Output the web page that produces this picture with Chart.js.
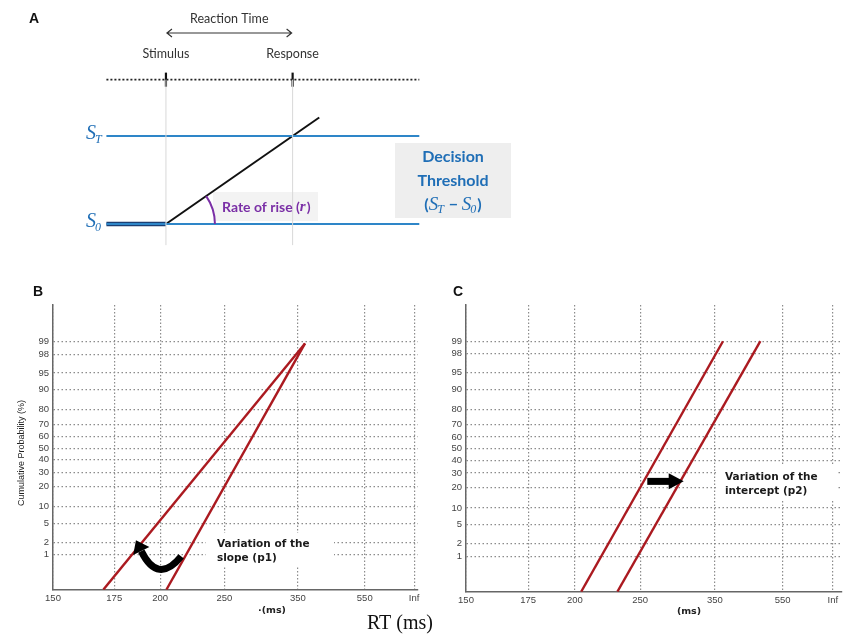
<!DOCTYPE html>
<html>
<head>
<meta charset="utf-8">
<script src="https://cdn.jsdelivr.net/npm/chart.js@4.4.1/dist/chart.umd.min.js"></script>
<style>
  body { margin: 0; background: #fff; }
  #wrap { position: relative; width: 850px; height: 637px; overflow: hidden; background: #fff; }
  canvas { position: absolute; }
</style>
</head>
<body>
<div id="wrap">
  <canvas id="panelA" width="850" height="280" style="left:0px;top:0px"></canvas>
  <canvas id="panelB" width="440" height="357" style="left:0px;top:280px"></canvas>
  <canvas id="panelC" width="420" height="357" style="left:430px;top:280px"></canvas>
</div>
<script>
// ---------- panel A: schematic (time in units of one reaction time, signal from S0 to ST) ----------
const eventLabels = ['Stimulus', 'Response'];
const eventTimes = [0, 1];
const startLevel = 0;          // S0
const thresholdLevel = 1;      // ST
const riseTimes = [0, 1.21];
const riseLevels = [0, 1.21];
const timelineSpan = [-0.47, 2.0];
const timelineLevel = 1.64;

// ---------- panels B and C: reciprobit plots ----------
const rtTicks = [150, 175, 200, 250, 350, 550, Infinity];
const rtTickLabels = ['150', '175', '200', '250', '350', '550', 'Inf'];
const probTicks = [1, 2, 5, 10, 20, 30, 40, 50, 60, 70, 80, 90, 95, 98, 99];

// B: variation of the slope
const slopeShallowRT = [170, 364];
const slopeShallowP = [0.1, 98.9];
const slopeSteepRT = [204, 364];
const slopeSteepP = [0.1, 98.9];

// C: variation of the intercept
const interceptEarlyRT = [204, 366];
const interceptEarlyP = [0.1, 99];
const interceptLateRT = [230, 463];
const interceptLateP = [0.1, 99];

const RED = '#ab1a20';
const BLUE = '#2e86c8';
const BLUE_TEXT = '#1f6eb6';
const PURPLE = '#7a2fa6';

// inverse normal CDF (Acklam) for the probit axis
function probit(p) {
  const a = [-3.969683028665376e+01, 2.209460984245205e+02, -2.759285104469687e+02, 1.383577518672690e+02, -3.066479806614716e+01, 2.506628277459239e+00];
  const b = [-5.447609879822406e+01, 1.615858368580409e+02, -1.556989798598866e+02, 6.680131188771972e+01, -1.328068155288572e+01];
  const c = [-7.784894002430293e-03, -3.223964580411365e-01, -2.400758277161838e+00, -2.549732539343734e+00, 4.374664141464968e+00, 2.938163982698783e+00];
  const d = [7.784695709041462e-03, 3.224671290700398e-01, 2.445134137142996e+00, 3.754408661907416e+00];
  const pl = 0.02425;
  let q, r;
  if (p < pl) {
    q = Math.sqrt(-2 * Math.log(p));
    return (((((c[0] * q + c[1]) * q + c[2]) * q + c[3]) * q + c[4]) * q + c[5]) / ((((d[0] * q + d[1]) * q + d[2]) * q + d[3]) * q + 1);
  }
  if (p > 1 - pl) {
    q = Math.sqrt(-2 * Math.log(1 - p));
    return -(((((c[0] * q + c[1]) * q + c[2]) * q + c[3]) * q + c[4]) * q + c[5]) / ((((d[0] * q + d[1]) * q + d[2]) * q + d[3]) * q + 1);
  }
  q = p - 0.5;
  r = q * q;
  return (((((a[0] * r + a[1]) * r + a[2]) * r + a[3]) * r + a[4]) * r + a[5]) * q / (((((b[0] * r + b[1]) * r + b[2]) * r + b[3]) * r + b[4]) * r + 1);
}

// reciprocal time axis, Inf squeezed in next to 550
function rtToX(rt) {
  return isFinite(rt) ? -1000 / rt : -1.05;
}

function segment(xs, ys) {
  return xs.map((x, i) => ({ x: x, y: ys[i] }));
}

// ---------- panel A ----------
function drawMathS(ctx, x, y, sub, size, color, dry) {
  ctx.fillStyle = color;
  ctx.font = 'italic ' + size + 'px "Liberation Serif"';
  const w1 = ctx.measureText('S').width;
  if (!dry) ctx.fillText('S', x, y);
  ctx.font = 'italic ' + Math.round(size * 0.62) + 'px "Liberation Serif"';
  const w2 = ctx.measureText(sub).width;
  if (!dry) ctx.fillText(sub, x + w1 - 1, y + size * 0.28);
  return w1 - 1 + w2;
}

const panelANotes = {
  id: 'panelANotes',
  beforeDatasetsDraw(chart) {
    const ctx = chart.ctx;
    ctx.save();
    // grey boxes
    ctx.fillStyle = '#eeeeee';
    ctx.fillRect(395, 143, 116, 75);
    ctx.fillStyle = '#f3f3f3';
    ctx.fillRect(213, 192, 105, 29);
    ctx.restore();
  },
  afterDatasetsDraw(chart) {
    const ctx = chart.ctx;
    const xs = chart.scales.x, ys = chart.scales.y;
    const X = v => xs.getPixelForValue(v);
    const Y = v => ys.getPixelForValue(v);
    ctx.save();
    ctx.textBaseline = 'middle';

    // panel letter
    ctx.fillStyle = '#111';
    ctx.font = 'bold 14px "Liberation Sans"';
    ctx.textAlign = 'left';
    ctx.fillText('A', 29, 19);

    // reaction time arrow
    const x0 = X(eventTimes[0]), x1 = X(eventTimes[1]);
    ctx.fillStyle = '#333';
    ctx.font = '12.5px Lato';
    ctx.textAlign = 'center';
    ctx.fillText('Reaction Time', (x0 + x1) / 2, 19);
    ctx.strokeStyle = '#333';
    ctx.lineWidth = 1.2;
    ctx.beginPath();
    ctx.moveTo(x0 + 1, 33); ctx.lineTo(x1 - 1, 33);
    ctx.moveTo(x0 + 6, 29); ctx.lineTo(x0 + 1, 33); ctx.lineTo(x0 + 6, 37);
    ctx.moveTo(x1 - 6, 29); ctx.lineTo(x1 - 1, 33); ctx.lineTo(x1 - 6, 37);
    ctx.stroke();

    ctx.font = '12.5px Lato';
    eventLabels.forEach((lab, i) => {
      ctx.fillText(lab, X(eventTimes[i]), 54);
    });

    // S_T / S_0 labels
    ctx.textAlign = 'left';
    drawMathS(ctx, 86, Y(thresholdLevel) - 2, 'T', 20, BLUE_TEXT);
    drawMathS(ctx, 86, Y(startLevel) - 2, '0', 20, BLUE_TEXT);

    // decision threshold box text
    ctx.fillStyle = BLUE_TEXT;
    ctx.font = 'bold 16px Lato';
    ctx.textAlign = 'center';
    ctx.fillText('Decision', 453, 157);
    ctx.fillText('Threshold', 453, 181);
    ctx.textAlign = 'left';
    const parts = [['t', '('], ['s', 'T'], ['t', ' \u2212 '], ['s', '0'], ['t', ')']];
    const drawParts = (sx, dry) => {
      let cx = sx;
      parts.forEach(p => {
        if (p[0] === 't') {
          ctx.font = 'bold 16px Lato';
          ctx.fillStyle = BLUE_TEXT;
          if (!dry) ctx.fillText(p[1], cx, 205);
          cx += ctx.measureText(p[1]).width;
        } else {
          cx += drawMathS(ctx, cx, 205, p[1], 19, BLUE_TEXT, dry) + 1;
        }
      });
      return cx - sx;
    };
    const tw = drawParts(0, true);
    drawParts(453 - tw / 2, false);

    // rate of rise arc + label
    const cx = X(riseTimes[0]), cy = Y(riseLevels[0]);
    const ang = Math.atan2(Y(riseLevels[1]) - cy, X(riseTimes[1]) - cx);
    ctx.strokeStyle = PURPLE;
    ctx.lineWidth = 2;
    ctx.beginPath();
    ctx.arc(cx, cy, 49, ang, 0);
    ctx.stroke();
    ctx.fillStyle = PURPLE;
    ctx.font = 'bold 14px Lato';
    const base = 'Rate of rise (';
    ctx.fillText(base, 222, 207);
    let w = ctx.measureText(base).width;
    ctx.font = 'italic bold 15px "Liberation Serif"';
    ctx.fillText('r', 222 + w, 207);
    w += ctx.measureText('r').width + 1;
    ctx.font = 'bold 14px Lato';
    ctx.fillText(')', 222 + w, 207);
    ctx.restore();
  }
};

const aDatasets = [];
// thin guide lines under each event
eventTimes.forEach(t => {
  aDatasets.push({ data: segment([t, t], [-0.24, timelineLevel]), borderColor: '#d8d8d8', borderWidth: 1 });
});
aDatasets.push(
  { data: segment(timelineSpan, [timelineLevel, timelineLevel]), borderColor: '#222', borderWidth: 1.6, borderDash: [2, 2] },
  { data: segment(timelineSpan, [thresholdLevel, thresholdLevel]), borderColor: BLUE, borderWidth: 2 },
  { data: segment(timelineSpan, [startLevel, startLevel]), borderColor: BLUE, borderWidth: 2 },
  { data: segment([timelineSpan[0], riseTimes[0]], [startLevel, startLevel]), borderColor: '#1b3f73', borderWidth: 4.5 },
  { data: segment(riseTimes, riseLevels), borderColor: '#111', borderWidth: 2 }
);
eventTimes.forEach(t => {
  aDatasets.push({ data: segment([t, t], [timelineLevel - 0.08, timelineLevel + 0.08]), borderColor: '#111', borderWidth: 2.2 });
});
aDatasets.forEach(ds => { ds.showLine = true; ds.pointRadius = 0; ds.fill = false; });

new Chart(document.getElementById('panelA'), {
  type: 'scatter',
  data: { datasets: aDatasets },
  options: {
    responsive: false,
    animation: false,
    events: [],
    layout: { padding: 0 },
    plugins: { legend: { display: false }, tooltip: { enabled: false } },
    scales: {
      x: { type: 'linear', display: false, min: -1.31, max: 5.40 },
      y: { type: 'linear', display: false, min: -0.636, max: 2.545 }
    }
  },
  plugins: [panelANotes]
});

// ---------- panels B and C ----------
function reciprobitChart(id, series, fit, notes) {
  const tickFont = { family: 'Liberation Sans', size: 9.5 };
  return new Chart(document.getElementById(id), {
    type: 'scatter',
    data: {
      datasets: series.map(s => ({
        data: s.rt.map((rt, i) => ({ x: rtToX(rt), y: probit(s.p[i] / 100) })),
        showLine: true,
        borderColor: RED,
        borderWidth: 2.4,
        pointRadius: 0,
        fill: false
      }))
    },
    options: {
      responsive: false,
      animation: false,
      events: [],
      layout: { padding: { left: 0, right: fit.right, top: 25, bottom: 0 } },
      plugins: { legend: { display: false }, tooltip: { enabled: false } },
      scales: {
        x: {
          type: 'linear',
          min: rtToX(150),
          max: fit.xMax,
          afterFit: s => { s.height = fit.xHeight; },
          afterBuildTicks: s => { s.ticks = rtTicks.map(rt => ({ value: rtToX(rt) })); },
          ticks: {
            autoSkip: false, maxRotation: 0, padding: 3, color: '#444',
            font: tickFont,
            callback: (v, i) => rtTickLabels[i]
          },
          grid: { color: '#8c8c8c', lineWidth: 1.2, drawTicks: false },
          border: { color: '#666', width: 1.5, dash: [1.5, 2] }
        },
        y: {
          type: 'linear',
          min: -3.1,
          max: fit.yMax,
          afterFit: s => { s.width = fit.yWidth; },
          afterBuildTicks: s => { s.ticks = probTicks.map(p => ({ value: probit(p / 100) })); },
          ticks: {
            autoSkip: false, padding: 4, color: '#444',
            font: tickFont,
            callback: (v, i) => String(probTicks[i])
          },
          grid: { color: '#8c8c8c', lineWidth: 1.2, drawTicks: false },
          border: { color: '#666', width: 1.5, dash: [1.5, 2.5] }
        }
      }
    },
    plugins: [notes]
  });
}

function notePixel(chart, rt, p) {
  return {
    x: chart.scales.x.getPixelForValue(rtToX(rt)),
    y: chart.scales.y.getPixelForValue(probit(p / 100))
  };
}

function textBlock(ctx, lines, x, y, box) {
  ctx.save();
  ctx.fillStyle = '#fff';
  ctx.fillRect(box[0], box[1], box[2], box[3]);
  ctx.fillStyle = '#1a1a1a';
  ctx.font = 'bold 10.5px "DejaVu Sans"';
  ctx.textAlign = 'left';
  ctx.textBaseline = 'middle';
  lines.forEach((l, i) => ctx.fillText(l, x, y + i * 14.5));
  ctx.restore();
}

const panelBNotes = {
  id: 'panelBNotes',
  beforeDatasetsDraw(chart) {
    textBlock(chart.ctx, ['Variation of the', 'slope (p1)'], 217, 264, [206, 253, 128, 33]);
  },
  afterDraw(chart) {
    const ctx = chart.ctx;
    ctx.save();
    ctx.textBaseline = 'middle';
    ctx.fillStyle = '#111';
    ctx.font = 'bold 14px "Liberation Sans"';
    ctx.fillText('B', 33, 12);

    // axis title
    ctx.save();
    ctx.translate(22, 173);
    ctx.rotate(-Math.PI / 2);
    ctx.textAlign = 'center';
    ctx.font = '9px "Liberation Sans"';
    ctx.fillStyle = '#222';
    ctx.fillText('Cumulative Probability (%)', 0, 0);
    ctx.restore();

    ctx.textAlign = 'center';
    ctx.font = 'bold 9.5px "DejaVu Sans"';
    ctx.fillStyle = '#222';
    ctx.fillText('\u00b7(ms)', 272, 331);
    ctx.font = '20px "Liberation Serif"';
    ctx.fillStyle = '#111';
    ctx.textAlign = 'right';
    ctx.fillText('RT (ms)', 433, 344);

    // curved arrow from the steep line towards the shallow one
    const tail = notePixel(chart, 214, 0.9);
    const tip = notePixel(chart, 186, 2.2);
    const ctrl = { x: 158, y: 305 };
    const dx = tip.x - ctrl.x, dy = tip.y - ctrl.y;
    const len = Math.hypot(dx, dy);
    const ux = dx / len, uy = dy / len;
    const headLen = 12;
    const neck = { x: tip.x - ux * headLen, y: tip.y - uy * headLen };
    ctx.strokeStyle = '#000';
    ctx.lineWidth = 7;
    ctx.lineCap = 'butt';
    ctx.beginPath();
    ctx.moveTo(tail.x, tail.y);
    ctx.quadraticCurveTo(ctrl.x, ctrl.y, neck.x, neck.y);
    ctx.stroke();
    ctx.fillStyle = '#000';
    ctx.beginPath();
    ctx.moveTo(tip.x, tip.y);
    ctx.lineTo(neck.x - uy * 9, neck.y + ux * 9);
    ctx.lineTo(neck.x + uy * 9, neck.y - ux * 9);
    ctx.closePath();
    ctx.fill();
    ctx.restore();
  }
};

const panelCNotes = {
  id: 'panelCNotes',
  beforeDatasetsDraw(chart) {
    textBlock(chart.ctx, ['Variation of the', 'intercept (p2)'], 295, 197, [288, 186, 120, 33]);
  },
  afterDraw(chart) {
    const ctx = chart.ctx;
    ctx.save();
    ctx.textBaseline = 'middle';
    ctx.fillStyle = '#111';
    ctx.font = 'bold 14px "Liberation Sans"';
    ctx.fillText('C', 23, 12);
    ctx.textAlign = 'center';
    ctx.font = 'bold 9.5px "DejaVu Sans"';
    ctx.fillStyle = '#222';
    ctx.fillText('(ms)', 259, 332);

    // straight arrow from the early line to the late one
    const a = notePixel(chart, 257, 24);
    const b = notePixel(chart, 300, 24);
    ctx.fillStyle = '#000';
    ctx.fillRect(a.x, a.y - 3.5, b.x - a.x - 13, 7);
    ctx.beginPath();
    ctx.moveTo(b.x, b.y);
    ctx.lineTo(b.x - 15, b.y - 8);
    ctx.lineTo(b.x - 15, b.y + 8);
    ctx.closePath();
    ctx.fill();
    ctx.restore();
  }
};

reciprobitChart('panelB', [
  { rt: slopeShallowRT, p: slopeShallowP },
  { rt: slopeSteepRT, p: slopeSteepP }
], { right: 22, xHeight: 47, yWidth: 53, xMax: -0.99, yMax: 3.13 }, panelBNotes);

reciprobitChart('panelC', [
  { rt: interceptEarlyRT, p: interceptEarlyP },
  { rt: interceptLateRT, p: interceptLateP }
], { right: 8, xHeight: 45, yWidth: 36, xMax: -0.91, yMax: 3.11 }, panelCNotes);
</script>
</body>
</html>
